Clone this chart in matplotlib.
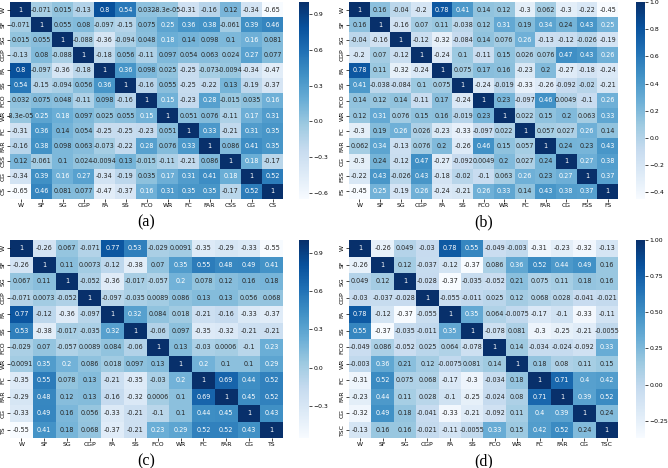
import numpy as np
import matplotlib
matplotlib.use('Agg')
import matplotlib.pyplot as plt
import seaborn as sns

# ── Correlation matrices ────────────────────────────────────────────────────

labels_a = ['W', 'SF', 'SG', 'CGP', 'FA', 'SS', 'FCO', 'WR', 'FC', 'FAR', 'CSS', 'CG', 'CS']
corr_a = [
    [1, -0.071, 0.015, -0.13, 0.8, 0.54, 0.032, -8.3e-05, -0.31, -0.16, 0.12, -0.34, -0.65],
    [-0.071, 1, 0.055, 0.08, -0.097, -0.15, 0.075, 0.25, 0.36, 0.38, -0.061, 0.39, 0.46],
    [0.015, 0.055, 1, -0.088, -0.36, -0.094, 0.048, 0.18, 0.14, 0.098, 0.1, 0.16, 0.081],
    [-0.13, 0.08, -0.088, 1, -0.18, 0.056, -0.11, 0.097, 0.054, 0.063, 0.024, 0.27, 0.077],
    [0.8, -0.097, -0.36, -0.18, 1, 0.36, 0.098, 0.025, -0.25, -0.073, -0.0094, -0.34, -0.47],
    [0.54, -0.15, -0.094, 0.056, 0.36, 1, -0.16, 0.055, -0.25, -0.22, 0.13, -0.19, -0.37],
    [0.032, 0.075, 0.048, -0.11, 0.098, -0.16, 1, 0.15, -0.23, 0.28, -0.015, 0.035, 0.16],
    [-8.3e-05, 0.25, 0.18, 0.097, 0.025, 0.055, 0.15, 1, 0.051, 0.076, -0.11, 0.17, 0.31],
    [-0.31, 0.36, 0.14, 0.054, -0.25, -0.25, -0.23, 0.051, 1, 0.33, -0.21, 0.31, 0.35],
    [-0.16, 0.38, 0.098, 0.063, -0.073, -0.22, 0.28, 0.076, 0.33, 1, 0.086, 0.41, 0.35],
    [0.12, -0.061, 0.1, 0.024, -0.0094, 0.13, -0.015, -0.11, -0.21, 0.086, 1, 0.18, -0.17],
    [-0.34, 0.39, 0.16, 0.27, -0.34, -0.19, 0.035, 0.17, 0.31, 0.41, 0.18, 1, 0.52],
    [-0.65, 0.46, 0.081, 0.077, -0.47, -0.37, 0.16, 0.31, 0.35, 0.35, -0.17, 0.52, 1],
]

labels_b = ['W', 'SF', 'SG', 'CGP', 'FA', 'SS', 'FCO', 'WR', 'FC', 'FAR', 'CG', 'FSS', 'FS']
corr_b = [
    [1, 0.16, -0.04, -0.2, 0.78, 0.41, 0.14, 0.12, -0.3, 0.062, -0.3, -0.22, -0.45],
    [0.16, 1, -0.16, 0.07, 0.11, -0.038, 0.12, 0.31, 0.19, 0.34, 0.24, 0.43, 0.25],
    [-0.04, -0.16, 1, -0.12, -0.32, -0.084, 0.14, 0.076, 0.26, -0.13, -0.12, -0.026, -0.19],
    [-0.2, 0.07, -0.12, 1, -0.24, 0.1, -0.11, 0.15, 0.026, 0.076, 0.47, 0.43, 0.26],
    [0.78, 0.11, -0.32, -0.24, 1, 0.075, 0.17, 0.16, -0.23, 0.2, -0.27, -0.18, -0.24],
    [0.41, -0.038, -0.084, 0.1, 0.075, 1, -0.24, -0.019, -0.33, -0.26, -0.092, -0.02, -0.21],
    [0.14, 0.12, 0.14, -0.11, 0.17, -0.24, 1, 0.23, -0.097, 0.46, 0.0049, -0.1, 0.26],
    [0.12, 0.31, 0.076, 0.15, 0.16, -0.019, 0.23, 1, 0.022, 0.15, 0.2, 0.063, 0.33],
    [-0.3, 0.19, 0.26, 0.026, -0.23, -0.33, -0.097, 0.022, 1, 0.057, 0.027, 0.26, 0.14],
    [0.062, 0.34, -0.13, 0.076, 0.2, -0.26, 0.46, 0.15, 0.057, 1, 0.24, 0.23, 0.43],
    [-0.3, 0.24, -0.12, 0.47, -0.27, -0.092, 0.0049, 0.2, 0.027, 0.24, 1, 0.27, 0.38],
    [-0.22, 0.43, -0.026, 0.43, -0.18, -0.02, -0.1, 0.063, 0.26, 0.23, 0.27, 1, 0.37],
    [-0.45, 0.25, -0.19, 0.26, -0.24, -0.21, 0.26, 0.33, 0.14, 0.43, 0.38, 0.37, 1],
]

labels_c = ['W', 'SF', 'SG', 'CGP', 'FA', 'SS', 'FCO', 'WR', 'FC', 'FAR', 'CG', 'TS']
corr_c = [
    [1, -0.26, 0.067, -0.071, 0.77, 0.53, -0.029, 0.0091, -0.35, -0.29, -0.33, -0.55],
    [-0.26, 1, 0.11, 0.0073, -0.12, -0.38, 0.07, 0.35, 0.55, 0.48, 0.49, 0.41],
    [0.067, 0.11, 1, -0.052, -0.36, -0.017, -0.057, 0.2, 0.078, 0.12, 0.16, 0.18],
    [-0.071, 0.0073, -0.052, 1, -0.097, -0.035, 0.0089, 0.086, 0.13, 0.13, 0.056, 0.068],
    [0.77, -0.12, -0.36, -0.097, 1, 0.32, 0.084, 0.018, -0.21, -0.16, -0.33, -0.37],
    [0.53, -0.38, -0.017, -0.035, 0.32, 1, -0.06, 0.097, -0.35, -0.32, -0.21, -0.21],
    [-0.029, 0.07, -0.057, 0.0089, 0.084, -0.06, 1, 0.13, -0.03, 0.0006, -0.1, 0.23],
    [0.0091, 0.35, 0.2, 0.086, 0.018, 0.097, 0.13, 1, 0.2, 0.1, 0.1, 0.29],
    [-0.35, 0.55, 0.078, 0.13, -0.21, -0.35, -0.03, 0.2, 1, 0.69, 0.44, 0.52],
    [-0.29, 0.48, 0.12, 0.13, -0.16, -0.32, 0.0006, 0.1, 0.69, 1, 0.45, 0.52],
    [-0.33, 0.49, 0.16, 0.056, -0.33, -0.21, -0.1, 0.1, 0.44, 0.45, 1, 0.43],
    [-0.55, 0.41, 0.18, 0.068, -0.37, -0.21, 0.23, 0.29, 0.52, 0.52, 0.43, 1],
]

labels_d = ['W', 'SF', 'SG', 'CGP', 'FA', 'SS', 'FCO', 'WR', 'FC', 'FAR', 'CG', 'TSC']
corr_d = [
    [1, -0.26, 0.049, -0.03, 0.78, 0.55, -0.049, -0.003, -0.31, -0.23, -0.32, -0.13],
    [-0.26, 1, 0.12, -0.037, -0.12, -0.37, 0.086, 0.36, 0.52, 0.44, 0.49, 0.16],
    [0.049, 0.12, 1, -0.028, -0.37, -0.035, -0.052, 0.21, 0.075, 0.11, 0.18, 0.16],
    [-0.03, -0.037, -0.028, 1, -0.055, -0.011, 0.025, 0.12, 0.068, 0.028, -0.041, -0.021],
    [0.78, -0.12, -0.37, -0.055, 1, 0.35, 0.064, -0.0075, -0.17, -0.1, -0.33, -0.11],
    [0.55, -0.37, -0.035, -0.011, 0.35, 1, -0.078, 0.081, -0.3, -0.25, -0.21, -0.0055],
    [-0.049, 0.086, -0.052, 0.025, 0.064, -0.078, 1, 0.14, -0.034, -0.024, -0.092, 0.33],
    [-0.003, 0.36, 0.21, 0.12, -0.0075, 0.081, 0.14, 1, 0.18, 0.08, 0.11, 0.15],
    [-0.31, 0.52, 0.075, 0.068, -0.17, -0.3, -0.034, 0.18, 1, 0.71, 0.4, 0.42],
    [-0.23, 0.44, 0.11, 0.028, -0.1, -0.25, -0.024, 0.08, 0.71, 1, 0.39, 0.52],
    [-0.32, 0.49, 0.18, -0.041, -0.33, -0.21, -0.092, 0.11, 0.4, 0.39, 1, 0.24],
    [-0.13, 0.16, 0.16, -0.021, -0.11, -0.0055, 0.33, 0.15, 0.42, 0.52, 0.24, 1],
]

cbar_ticks_a = [-0.6, -0.3, 0.0, 0.3, 0.6, 0.9]
cbar_ticks_b = [-0.4, -0.2, 0.0, 0.2, 0.4, 0.6, 0.8, 1.0]
cbar_ticks_c = [-0.3, 0.0, 0.3, 0.6, 0.9]
cbar_ticks_d = [-0.25, 0.0, 0.25, 0.50, 0.75, 1.00]

# ── Figure layout (pixel boxes converted to figure fractions) ───────────────

W, H = 668, 468
fig = plt.figure(figsize=(W / 100, H / 100), dpi=100)


def box(x0, y0, x1, y1):
    return [x0 / W, 1 - y1 / H, (x1 - x0) / W, (y1 - y0) / H]


panels = [
    (corr_a, labels_a, cbar_ticks_a, '{:.1f}', (10, 2, 283, 199), (299, 2, 309, 199), '(a)'),
    (corr_b, labels_b, cbar_ticks_b, '{:.1f}', (349, 2, 618, 199), (636, 2, 645, 199), '(b)'),
    (corr_c, labels_c, cbar_ticks_c, '{:.1f}', (10, 240, 283, 438), (299, 240, 309, 438), '(c)'),
    (corr_d, labels_d, cbar_ticks_d, '{:.2f}', (349, 240, 618, 438), (636, 240, 645, 438), '(d)'),
]

fs = 4.4
for corr, labels, cticks, cfmt, hbox, cbox, tag in panels:
    ax = fig.add_axes(box(*hbox))
    cax = fig.add_axes(box(*cbox))
    sns.heatmap(np.array(corr), ax=ax, cbar_ax=cax, cmap='Blues', annot=True,
                annot_kws={'fontsize': 4.7}, xticklabels=labels, yticklabels=labels)
    ax.tick_params(axis='both', labelsize=fs, length=2, width=0.5, pad=1.2)
    ax.set_yticklabels(labels, rotation=90, va='center')
    ax.set_xticklabels(labels, rotation=0)
    cax.set_yticks(cticks)
    cax.set_yticklabels([cfmt.format(t).replace('-', '\u2212') for t in cticks])
    cax.tick_params(labelsize=fs, length=2, width=0.5, pad=1.2)
    cx = (hbox[0] + hbox[2]) / 2 / W
    fig.text(cx, 1 - (hbox[3] + 23) / H, tag, ha='center', va='center',
             fontsize=11.5, family='Liberation Serif')

fig.savefig('out.png', dpi=100)
